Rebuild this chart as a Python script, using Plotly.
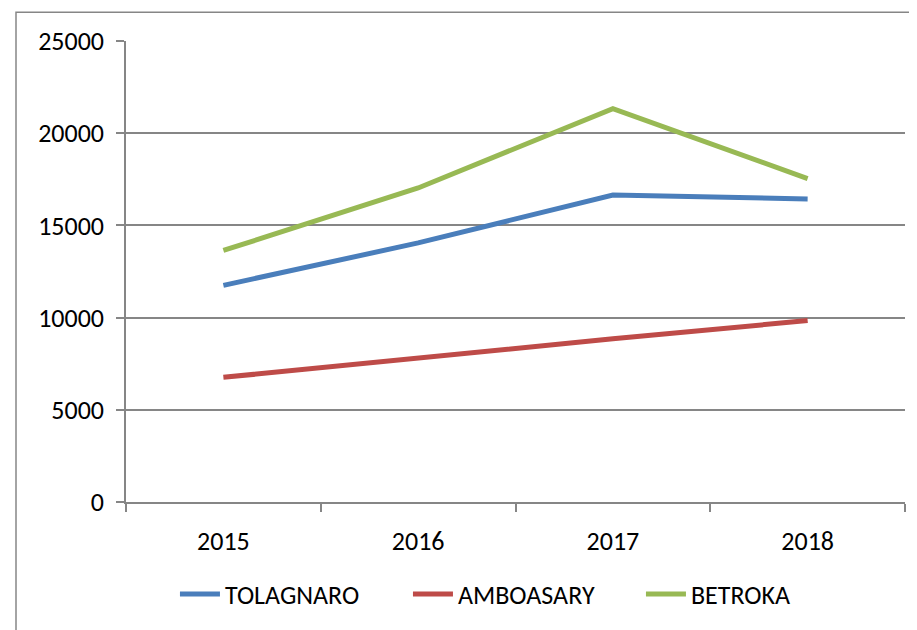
import plotly.graph_objects as go

years = ["2015", "2016", "2017", "2018"]
tolagnaro = [11750, 14050, 16650, 16430]
amboasary = [6760, 7820, 8850, 9840]
betroka = [13640, 17030, 21330, 17540]

series_names = ["TOLAGNARO", "AMBOASARY", "BETROKA"]
series_values = [tolagnaro, amboasary, betroka]
colors = ["#4A7EBB", "#BE4B48", "#98B954"]

FONT = "Carlito, Calibri, 'Liberation Sans Narrow', 'Liberation Sans', Arial, sans-serif"
GRID = "#868686"

fig = go.Figure()
for name, vals, col in zip(series_names, series_values, colors):
    fig.add_trace(go.Scatter(
        x=years, y=vals, name=name, mode="lines",
        line=dict(color=col, width=5),
    ))

# the page body has an 8px default margin, so the figure is 8px smaller
fig.update_layout(
    width=909, height=622,
    margin=dict(l=118, r=12, t=33, b=124),
    paper_bgcolor="white", plot_bgcolor="white",
    font=dict(family=FONT, size=26, color="black"),
    showlegend=True,
    legend=dict(
        orientation="h", x=0.5115, xanchor="center", y=-0.2, yanchor="middle",
        font=dict(family=FONT, size=26, color="black"),
        itemwidth=40, entrywidth=178, entrywidthmode="pixels",
    ),
    xaxis=dict(
        type="category", tickson="boundaries", ticks="outside", ticklen=8,
        tickcolor=GRID, tickwidth=1.5, showline=True, linecolor=GRID, linewidth=1.5,
        showgrid=False, ticklabelstandoff=15, range=[-0.5, 3.5], automargin=False,
    ),
    yaxis=dict(
        range=[0, 25000], dtick=5000, tickformat="d", ticks="outside", ticklen=8,
        tickcolor=GRID, tickwidth=1.5, showline=True, linecolor=GRID, linewidth=1.5,
        showgrid=True, gridcolor=GRID, gridwidth=1.5, zeroline=False,
        ticklabelstandoff=7, automargin=False,
    ),
    shapes=[dict(
        type="rect", xref="paper", yref="paper",
        x0=(16 - 126) / 779, x1=1.1, y0=-0.6, y1=1 + 29 / 465,
        line=dict(color=GRID, width=1.5), fillcolor="rgba(0,0,0,0)", layer="below",
    )],
)

fig.write_html("out.html")
